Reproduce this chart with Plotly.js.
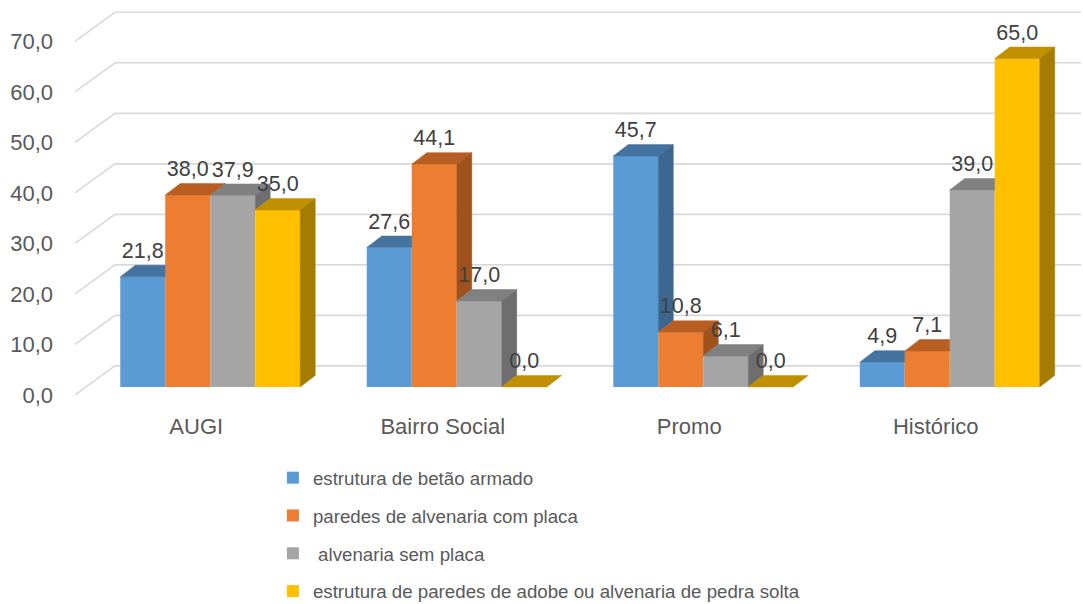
<!DOCTYPE html>
<html>
<head>
<meta charset="utf-8">
<script src="https://cdn.plot.ly/plotly-3.0.1.min.js"></script>
<style>html,body{margin:0;padding:0;background:#fff}</style>
</head>
<body>
<div id="chart" style="width:1083px;height:604px"></div>
<script>
// chart values
var categories = ['AUGI', 'Bairro Social', 'Promo', 'Histórico'];
var seriesNames = ['estrutura de betão armado', 'paredes de alvenaria com placa', ' alvenaria sem placa',
  'estrutura de paredes de adobe ou alvenaria de pedra solta'];
var betaoArmado = [21.8, 27.6, 45.7, 4.9];
var alvenariaComPlaca = [38.0, 44.1, 10.8, 7.1];
var alvenariaSemPlaca = [37.9, 17.0, 6.1, 39.0];
var adobePedra = [35.0, 0.0, 0.0, 65.0];
var gridValues = [0, 10, 20, 30, 40, 50, 60, 70];

var series = [betaoArmado, alvenariaComPlaca, alvenariaSemPlaca, adobePedra];
var frontColors = ['#5B9BD5', '#ED7D31', '#A5A5A5', '#FFC000'];
var topColors = ['#4473A0', '#B95E22', '#808080', '#C09000'];
var sideColors = ['#3B6690', '#A0521D', '#6E6E6E', '#A67C00'];

// geometry of the fake 3d look
var margin = {l: 87, r: 10, t: 3, b: 207, autoexpand: false};
var xRange = [-0.5, 3.5], yRange = [-2, 76];
var pxX = (1083 - margin.l - margin.r) / (xRange[1] - xRange[0]);
var pxY = (604 - margin.t - margin.b) / (yRange[1] - yRange[0]);
var bargap = 0.27;
var barW = (1 - bargap) / 4;
var dX = 15 / pxX, dY = 11.5 / pxY;
var xIdx = categories.map(function (c, i) { return i; });

function fmt(v) { return v.toFixed(1).replace('.', ','); }

var data = [];
var faces = [];
var labels = [];
series.forEach(function (vals, s) {
  data.push({
    type: 'bar', x: xIdx, y: vals, name: seriesNames[s], legendgroup: 'g' + s,
    marker: {color: frontColors[s], line: {width: 0}}, hoverinfo: 'y'
  });
  var tx = [], ty = [], sx = [], sy = [], lx = [];
  vals.forEach(function (h, i) {
    var L = i - 2 * barW + s * barW, R = L + barW;
    var next = s < 3 ? series[s + 1][i] : null;
    if (next !== null && next >= h) {
      // right part of the top is hidden behind the taller neighbour
      tx.push(L, R, R, L + dX, L, null);
      ty.push(h, h, h + dY, h + dY, h, null);
    } else {
      tx.push(L, R, R + dX, L + dX, L, null);
      ty.push(h, h, h + dY, h + dY, h, null);
      var bottom = next === null ? 0 : Math.max(next, 0);
      if (h > bottom) {
        sx.push(R, R + dX, R + dX, R, R, null);
        sy.push(bottom, bottom + dY, h + dY, h, bottom, null);
      }
    }
    lx.push(L + barW / 2);
  });
  faces.push({type: 'scatter', mode: 'lines', x: tx, y: ty, fill: 'toself', fillcolor: topColors[s],
    line: {width: 0.5, color: topColors[s]}, showlegend: false, hoverinfo: 'skip'});
  faces.push({type: 'scatter', mode: 'lines', x: sx, y: sy, fill: 'toself', fillcolor: sideColors[s],
    line: {width: 0.5, color: sideColors[s]}, showlegend: false, hoverinfo: 'skip'});
  labels.push({type: 'scatter', mode: 'text', x: lx, y: vals.map(function (v) { return v + dY + 0.4; }),
    text: vals.map(fmt), textposition: 'top center', cliponaxis: false,
    textfont: {family: 'Liberation Sans, Arial, sans-serif', size: 21.5, color: '#404040'},
    showlegend: false, hoverinfo: 'skip'});
});
data = data.concat(faces, labels);

// back wall gridlines with the slanted side wall piece
var frontOff = -8 / pxY, backOff = 21 / pxY;
var xFront = (75 - margin.l) / (1083 - margin.l - margin.r);
var xBack = (115 - margin.l) / (1083 - margin.l - margin.r);
var xEnd = (1081 - margin.l) / (1083 - margin.l - margin.r);
var shapes = [];
gridValues.forEach(function (g) {
  shapes.push({type: 'path', xref: 'paper', yref: 'y', layer: 'below',
    path: 'M' + xFront + ',' + (g + frontOff) + 'L' + xBack + ',' + (g + backOff) + 'L' + xEnd + ',' + (g + backOff),
    line: {color: '#D9D9D9', width: 1.6}});
});

var layout = {
  width: 1083, height: 604,
  margin: margin,
  paper_bgcolor: '#fff', plot_bgcolor: 'rgba(0,0,0,0)',
  font: {family: 'Liberation Sans, Arial, sans-serif', size: 22, color: '#595959'},
  barmode: 'group', bargap: bargap, bargroupgap: 0,
  showlegend: true,
  xaxis: {range: xRange, tickvals: xIdx, ticktext: categories, showgrid: false, zeroline: false,
    showline: false, ticks: '', tickangle: 0, ticklabelshift: -14, ticklabelstandoff: 14, fixedrange: true},
  yaxis: {range: yRange, tickvals: gridValues, ticktext: gridValues.map(fmt), showgrid: false,
    zeroline: false, showline: false, ticks: '', ticklabelshift: 8, ticklabelstandoff: 33, fixedrange: true},
  legend: {orientation: 'v', xref: 'container', yref: 'container', x: 0.252, y: 1 - 459 / 604,
    xanchor: 'left', yanchor: 'top', tracegroupgap: 10.5, bgcolor: 'rgba(0,0,0,0)',
    font: {family: 'Liberation Sans, Arial, sans-serif', size: 18.7, color: '#595959'}},
  shapes: shapes
};

Plotly.newPlot('chart', data, layout, {displayModeBar: false, staticPlot: true});
</script>
</body>
</html>
